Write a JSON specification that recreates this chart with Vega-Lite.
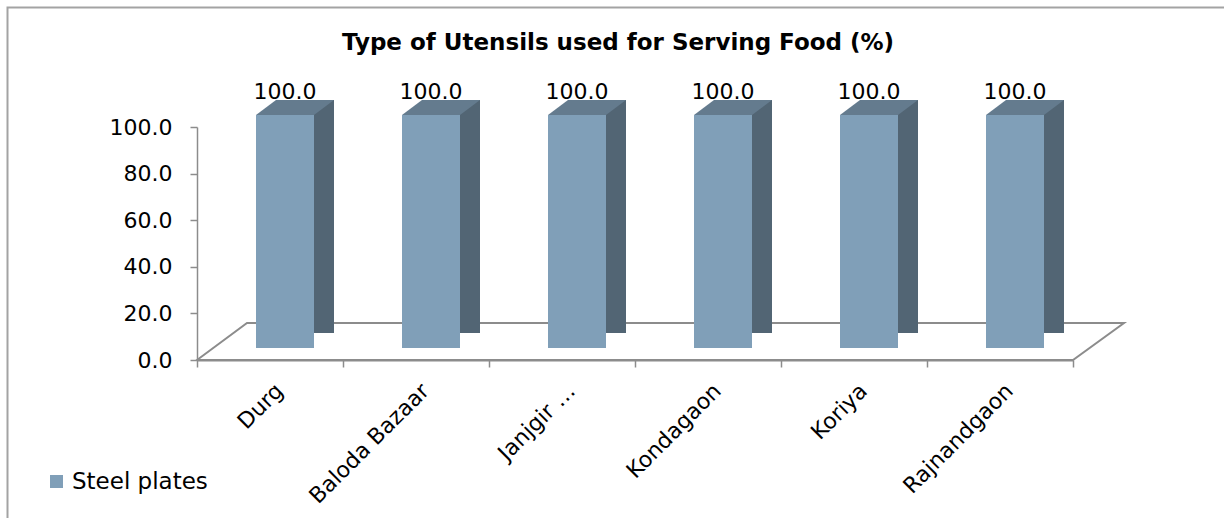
{
  "$schema": "https://vega.github.io/schema/vega-lite/v6.json",
  "width": 876,
  "height": 233,
  "autosize": "none",
  "padding": {"left": 197, "top": 127, "right": 151, "bottom": 158},
  "background": "white",
  "config": {"font": "DejaVu Sans", "view": {"stroke": null}},
  "title": {
    "text": "Type of Utensils used for Serving Food (%)",
    "font": "DejaVu Sans",
    "fontSize": 23,
    "fontWeight": "bold",
    "color": "black",
    "anchor": "middle",
    "dx": -17,
    "offset": 0,
    "dy": 51
  },
  "data": {
    "values": [
      {"district": "Durg", "utensil": "Steel plates", "percent": 100.0},
      {"district": "Baloda Bazaar", "utensil": "Steel plates", "percent": 100.0},
      {"district": "Janjgir-Champa", "utensil": "Steel plates", "percent": 100.0},
      {"district": "Kondagaon", "utensil": "Steel plates", "percent": 100.0},
      {"district": "Koriya", "utensil": "Steel plates", "percent": 100.0},
      {"district": "Rajnandgaon", "utensil": "Steel plates", "percent": 100.0}
    ]
  },
  "encoding": {
    "x": {
      "field": "district",
      "type": "nominal",
      "sort": null,
      "scale": {"type": "band", "paddingInner": 0, "paddingOuter": 0},
      "axis": {
        "title": null,
        "labelAngle": -45,
        "labelAlign": "right",
        "labelBaseline": "middle",
        "labelFont": "DejaVu Sans",
        "labelFontSize": 22,
        "labelColor": "black",
        "labelPadding": 20,
        "labelOffset": 9,
        "tickBand": "extent",
        "tickSize": 7,
        "tickColor": "#8c8c8c",
        "tickWidth": 1.5,
        "domainColor": "#8c8c8c",
        "domainWidth": 2,
        "grid": false,
        "labelExpr": "datum.label == 'Janjgir-Champa' ? 'Janjgir …' : datum.label"
      }
    },
    "y": {
      "field": "percent",
      "type": "quantitative",
      "scale": {"domain": [0, 100], "nice": false},
      "axis": {
        "title": null,
        "values": [0, 20, 40, 60, 80, 100],
        "format": ".1f",
        "labelFont": "DejaVu Sans",
        "labelFontSize": 22,
        "labelColor": "black",
        "labelPadding": 18,
        "tickSize": 7,
        "tickColor": "#8c8c8c",
        "tickWidth": 1.5,
        "domainColor": "#8c8c8c",
        "domainWidth": 1.5,
        "grid": false
      }
    }
  },
  "layer": [
    {
      "transform": [{"filter": "datum.district == 'Durg'"}],
      "mark": {
        "type": "point",
        "shape": "M-6.5625,4.25L-6.5625,-8.8125L24.25,-8.8125",
        "size": 6400,
        "filled": false,
        "stroke": "#a3a3a3",
        "strokeWidth": 2,
        "opacity": 1
      },
      "encoding": {"y": {"datum": 0, "type": "quantitative"}}
    },
    {
      "transform": [{"filter": "datum.district == 'Durg'"}],
      "mark": {
        "type": "point",
        "shape": "M-1.825,0L-0.575,-0.925L21.35,-0.925L20.075,0Z",
        "size": 6400,
        "filled": false,
        "stroke": "#8c8c8c",
        "strokeWidth": 2,
        "opacity": 1
      },
      "encoding": {"y": {"datum": 0, "type": "quantitative"}}
    },
    {
      "mark": {
        "type": "bar",
        "width": 20,
        "xOffset": 54,
        "x2Offset": 54,
        "yOffset": -27,
        "y2Offset": -11,
        "color": "#526574"
      }
    },
    {
      "mark": {
        "type": "point",
        "shape": "M1.0833,-0.2625L1.625,-0.2625L1.625,-0.66875Z",
        "size": 6400,
        "filled": true,
        "fill": "white",
        "strokeWidth": 0,
        "opacity": 1
      },
      "encoding": {"y": {"datum": 0, "type": "quantitative"}}
    },
    {
      "mark": {
        "type": "bar",
        "width": 58,
        "xOffset": 15,
        "x2Offset": 15,
        "yOffset": -12,
        "y2Offset": -11
      },
      "encoding": {
        "color": {
          "field": "utensil",
          "type": "nominal",
          "scale": {"range": ["#809fb8"]},
          "legend": {
            "orient": "none",
            "legendX": -152,
            "legendY": 343,
            "title": null,
            "symbolType": "square",
            "symbolSize": 169,
            "symbolStrokeWidth": 0,
            "labelFont": "DejaVu Sans",
            "labelFontSize": 23,
            "labelColor": "black",
            "labelOffset": 4,
            "padding": 0
          }
        }
      }
    },
    {
      "mark": {
        "type": "point",
        "shape": "M-0.35,-0.3L1.1,-0.3L1.6,-0.675L0.15,-0.675Z",
        "size": 6400,
        "filled": true,
        "fill": "#647b8e",
        "strokeWidth": 0,
        "opacity": 1
      }
    },
    {
      "mark": {
        "type": "text",
        "xOffset": 15,
        "dy": -28,
        "baseline": "alphabetic",
        "font": "DejaVu Sans",
        "fontSize": 22,
        "color": "black"
      },
      "encoding": {"text": {"field": "percent", "type": "quantitative", "format": ".1f"}}
    }
  ]
}
